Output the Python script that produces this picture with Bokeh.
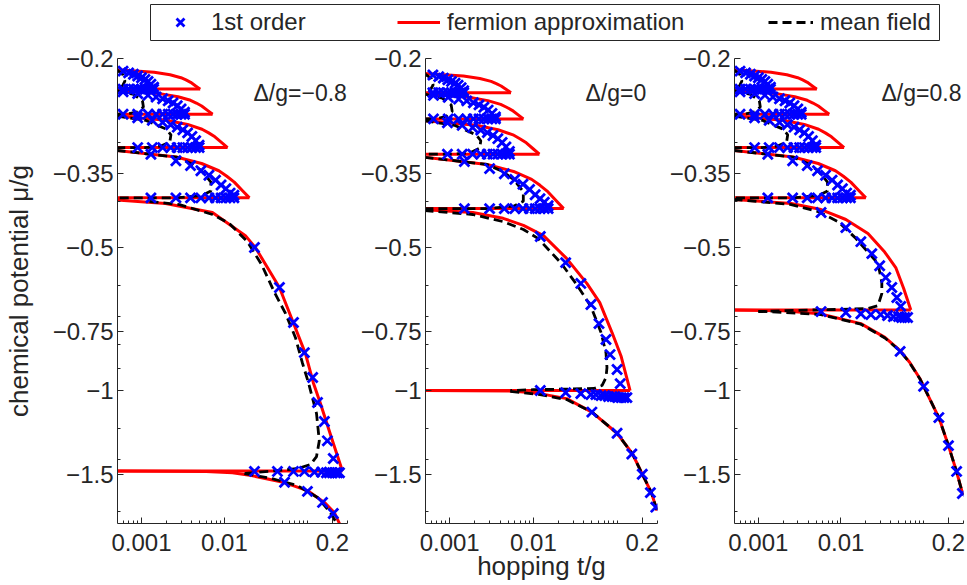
from bokeh.plotting import figure
from bokeh.models import ColumnDataSource, Range1d, FixedTicker, Label, Legend, LegendItem
from bokeh.layouts import column, row
from bokeh.embed import file_html
from bokeh.resources import INLINE

FONT = "Liberation Sans"
TXT = "#262626"
T_LEFT = 0.0005

X_TICKS = [0.001, 0.01, 0.2]
X_TICK_LABELS = ["0.001", "0.01", "0.2"]
X_MINOR = [0.0006, 0.0007, 0.0008, 0.0009, 0.002, 0.003, 0.004, 0.005, 0.006, 0.007, 0.008, 0.009,
           0.02, 0.03, 0.04, 0.05, 0.06, 0.07, 0.08, 0.09, 0.1, 0.3]
Y_TICKS = [-0.2, -0.35, -0.5, -0.75, -1, -1.5]
Y_TICK_LABELS = ["\u22120.2", "\u22120.35", "\u22120.5", "\u22120.75", "\u22121", "\u22121.5"]
Y_MINOR = [-0.3, -0.4, -0.6, -0.7, -0.8, -0.9, -1.2, -1.4, -1.8]

# ---------------- Δ/g = -0.8 ----------------
A_LEVELS = [-1.477, -0.393, -0.308, -0.262, -0.232]
A_TIPS = [0.264, 0.020, 0.0109, 0.0072, 0.0051]
A_RED1_T = [0.0005, 0.00195, 0.00716, 0.0179, 0.0236, 0.046, 0.066, 0.0946, 0.118, 0.1435, 0.1945, 0.264]
A_RED1_MU = [-0.397, -0.404, -0.422, -0.472, -0.500, -0.607, -0.712, -0.836, -0.964, -1.065, -1.256, -1.477]
A_VAC_T = [0.0005, 0.006, 0.0125, 0.0211, 0.0528, 0.1, 0.16, 0.211, 0.245]
A_VAC_MU = [-1.477, -1.48, -1.49, -1.51, -1.562, -1.624, -1.72, -1.807, -1.91]
A_MF1_T = [0.00125, 0.00287, 0.00717, 0.01145, 0.0189, 0.028, 0.040, 0.0546, 0.0716, 0.087, 0.1028,
           0.1287, 0.139, 0.1287, 0.109, 0.0757, 0.0369, 0.0174]
A_MF1_MU = [-0.400, -0.406, -0.426, -0.445, -0.486, -0.543, -0.621, -0.689, -0.773, -0.875, -0.962,
            -1.118, -1.276, -1.377, -1.431, -1.460, -1.478, -1.495]
A_MFVAC_T = [0.0174, 0.0369, 0.0757, 0.1323, 0.1844, 0.2236]
A_MFVAC_MU = [-1.495, -1.532, -1.585, -1.679, -1.797, -1.897]
A_FO1_T = [0.023, 0.046, 0.0679, 0.0919, 0.1156, 0.1323, 0.16, 0.174, 0.205,
           0.023, 0.0435, 0.0679, 0.0919, 0.1215, 0.148, 0.1695, 0.184, 0.2, 0.2175, 0.23, 0.2434,
           0.053, 0.1, 0.152, 0.205]
A_FO1_MU = [-0.500, -0.607, -0.719, -0.832, -0.939, -1.06, -1.162, -1.276, -1.39,
            -1.48, -1.48, -1.48, -1.48, -1.485, -1.485, -1.49, -1.49, -1.49, -1.49, -1.49, -1.49,
            -1.56, -1.63, -1.72, -1.815]

# ---------------- |Δ|/g = 0.8 upper lobes (same in both detuned panels) ----------------
S_RED2_T = [0.0005, 0.00263, 0.0053, 0.00856, 0.01068, 0.01313, 0.01663, 0.020]
S_RED2_MU = [-0.3123, -0.3225, -0.3327, -0.3446, -0.3539, -0.3641, -0.3803, -0.393]
S_RED3_T = [0.0005, 0.002002, 0.003595, 0.005366, 0.006455, 0.00767, 0.009345, 0.0109]
S_RED3_MU = [-0.2643, -0.2698, -0.2753, -0.2818, -0.2868, -0.2924, -0.3011, -0.308]
S_RED4_T = [0.0005, 0.00166, 0.002757, 0.003899, 0.004576, 0.005315, 0.0063, 0.0072]
S_RED4_MU = [-0.2335, -0.2371, -0.2407, -0.2449, -0.2482, -0.2518, -0.2575, -0.262]
S_RED5_T = [0.0005, 0.001422, 0.00221, 0.002989, 0.003436, 0.003914, 0.004541, 0.0051]
S_RED5_MU = [-0.2111, -0.2137, -0.2164, -0.2195, -0.2219, -0.2245, -0.2287, -0.232]
S_MF2_T = [0.0005, 0.00263, 0.003946, 0.0053, 0.00686, 0.00686, 0.0053, 0.00263, 0.0005]
S_MF2_MU = [-0.3123, -0.3225, -0.3327, -0.3446, -0.3641, -0.3803, -0.3888, -0.393, -0.393]
S_MF3_T = [0.0005, 0.001114, 0.002002, 0.002264, 0.002195, 0.001715, 0.001114, 0.0005]
S_MF3_MU = [-0.2643, -0.2698, -0.2818, -0.2896, -0.2997, -0.3057, -0.308, -0.308]
S_MF4_T = [0.0005, 0.000808, 0.001027, 0.001055, 0.000899, 0.000689, 0.0005]
S_MF4_MU = [-0.2335, -0.238, -0.2455, -0.253, -0.259, -0.2617, -0.262]
S_MF5_T = [0.0005, 0.000602, 0.000631, 0.000588, 0.0005]
S_MF5_MU = [-0.2111, -0.2166, -0.2232, -0.2287, -0.2313]
# first-order points of the upper lobes: an upper row and a lower row per lobe
S_FO2_T = [0.0013, 0.0026, 0.0039, 0.0052, 0.0065, 0.0078, 0.0091, 0.0104, 0.0117, 0.013]
S_FO2_UP = [-0.3182, -0.3284, -0.3361, -0.3446, -0.3522, -0.3607, -0.3692, -0.376, -0.384, -0.388]
S_FO2_LO = [-0.393, -0.393, -0.393, -0.393, -0.393, -0.393, -0.393, -0.393, -0.393, -0.393]
S_FO3_T = [0.0009, 0.00135, 0.0018, 0.00225, 0.0027, 0.00315, 0.0036, 0.00405, 0.0045, 0.00495]
S_FO3_UP = [-0.2666, -0.2698, -0.2726, -0.2758, -0.279, -0.2827, -0.2868, -0.2919, -0.2979, -0.3043]
S_FO3_LO = [-0.308, -0.308, -0.308, -0.308, -0.308, -0.308, -0.308, -0.308, -0.308, -0.308]
S_FO4_T = [0.0006, 0.0009, 0.0012, 0.0015, 0.0018, 0.0021, 0.0024, 0.0027, 0.003, 0.0033]
S_FO4_UP = [-0.235, -0.2371, -0.2389, -0.241, -0.2431, -0.2455, -0.2482, -0.2515, -0.2554, -0.2596]
S_FO4_LO = [-0.262, -0.262, -0.262, -0.262, -0.262, -0.262, -0.262, -0.262, -0.262, -0.262]
S_FO5_T = [0.0006, 0.0007, 0.0008, 0.0009, 0.001, 0.0011, 0.0012, 0.0013, 0.0014]
S_FO5_UP = [-0.2126, -0.2144, -0.2159, -0.2177, -0.2195, -0.2214, -0.2236, -0.2265, -0.2298]
S_FO5_LO = [-0.232, -0.232, -0.232, -0.232, -0.232, -0.232, -0.232, -0.232, -0.232]

# ---------------- Δ/g = 0 ----------------
B_LEVELS = [-1.0, -0.414, -0.318, -0.268, -0.236]
B_TIPS = [0.143, 0.023, 0.0118, 0.0076, 0.0054]
B_RED1_T = [0.0005, 0.00189, 0.00435, 0.0076, 0.0132, 0.0249, 0.0435, 0.0621, 0.087, 0.112, 0.143]
B_RED1_MU = [-0.416, -0.422, -0.434, -0.449, -0.472, -0.527, -0.595, -0.653, -0.755, -0.848, -1.0]
B_RED2_T = [0.0005, 0.0028, 0.005797, 0.009534, 0.012, 0.01487, 0.019, 0.023]
B_RED2_MU = [-0.3228, -0.3343, -0.3458, -0.3593, -0.3698, -0.3814, -0.3996, -0.414]
B_RED3_T = [0.0005, 0.002074, 0.00378, 0.005703, 0.006893, 0.008229, 0.01008, 0.0118]
B_RED3_MU = [-0.2705, -0.2765, -0.2825, -0.2895, -0.295, -0.301, -0.3105, -0.318]
B_RED4_T = [0.0005, 0.001701, 0.002853, 0.004064, 0.004785, 0.005574, 0.006634, 0.0076]
B_RED4_MU = [-0.2376, -0.2414, -0.2453, -0.2498, -0.2533, -0.2571, -0.2632, -0.268]
B_RED5_T = [0.0005, 0.001459, 0.002293, 0.003124, 0.003603, 0.004117, 0.004794, 0.0054]
B_RED5_MU = [-0.2151, -0.2177, -0.2204, -0.2235, -0.2259, -0.2285, -0.2327, -0.236]
B_VAC_T = [0.0005, 0.006, 0.012, 0.025, 0.05, 0.1, 0.153, 0.2, 0.257, 0.30]
B_VAC_MU = [-1.0, -1.003, -1.015, -1.04, -1.11, -1.23, -1.36, -1.50, -1.64, -1.79]
B_MF1_T = [0.0005, 0.00189, 0.00435, 0.0076, 0.01145, 0.0212, 0.0322, 0.0487, 0.0643, 0.0737, 0.0757,
           0.0737, 0.066, 0.0528, 0.0249, 0.010, 0.0053]
B_MF1_MU = [-0.418, -0.426, -0.441, -0.458, -0.479, -0.538, -0.595, -0.665, -0.755, -0.833, -0.895,
            -0.939, -0.976, -0.990, -0.993, -0.996, -1.0]
B_MF2_T = [0.0005, 0.0028, 0.004268, 0.005797, 0.00758, 0.00758, 0.005797, 0.0028, 0.0005]
B_MF2_MU = [-0.3228, -0.3343, -0.3458, -0.3593, -0.3814, -0.3996, -0.4092, -0.414, -0.414]
B_MF3_T = [0.0005, 0.001138, 0.002074, 0.002353, 0.00228, 0.001771, 0.001138, 0.0005]
B_MF3_MU = [-0.2705, -0.2765, -0.2895, -0.298, -0.309, -0.3155, -0.318, -0.318]
B_MF4_T = [0.0005, 0.000816, 0.001042, 0.001071, 0.00091, 0.000693, 0.0005]
B_MF4_MU = [-0.2376, -0.2424, -0.2504, -0.2584, -0.2648, -0.2677, -0.268]
B_MF5_T = [0.0005, 0.000605, 0.000634, 0.00059, 0.0005]
B_MF5_MU = [-0.2151, -0.2206, -0.2272, -0.2327, -0.2353]
B_MFVAC_T = [0.0053, 0.012, 0.025, 0.05, 0.1, 0.153, 0.2, 0.257, 0.30]
B_MFVAC_MU = [-1.004, -1.02, -1.045, -1.11, -1.23, -1.36, -1.50, -1.64, -1.79]
B_FO1_T = [0.0121, 0.0243, 0.0369, 0.0487, 0.0608, 0.0737, 0.0824, 0.1, 0.109,
           0.0121, 0.0243, 0.0369, 0.0487, 0.0557, 0.0643, 0.0714, 0.079, 0.087, 0.094, 0.102, 0.112, 0.121, 0.131,
           0.050, 0.1, 0.15, 0.2, 0.25, 0.29]
B_FO1_MU = [-0.474, -0.538, -0.595, -0.659, -0.723, -0.781, -0.840, -0.903, -0.967,
            -1.0, -1.01, -1.015, -1.02, -1.02, -1.025, -1.025, -1.03, -1.03, -1.03, -1.035, -1.035, -1.035, -1.035,
            -1.11, -1.23, -1.36, -1.50, -1.64, -1.76]
B_FO2_T = [0.0015, 0.003, 0.0045, 0.006, 0.0075, 0.009, 0.0105, 0.012, 0.0135, 0.015]
B_FO2_UP = [-0.3295, -0.341, -0.3497, -0.3593, -0.3679, -0.3775, -0.3871, -0.3948, -0.4015, -0.4082]
B_FO2_LO = [-0.414, -0.414, -0.414, -0.414, -0.414, -0.414, -0.414, -0.414, -0.414, -0.414]
B_FO3_T = [0.00094, 0.00141, 0.00188, 0.00235, 0.00282, 0.00329, 0.00376, 0.00423, 0.0047, 0.00517]
B_FO3_UP = [-0.273, -0.2765, -0.2795, -0.283, -0.2865, -0.2905, -0.295, -0.3005, -0.307, -0.314]
B_FO3_LO = [-0.318, -0.318, -0.318, -0.318, -0.318, -0.318, -0.318, -0.318, -0.318, -0.318]
B_FO4_T = [0.00064, 0.00096, 0.00128, 0.0016, 0.00192, 0.00224, 0.00256, 0.00288, 0.0032, 0.00352]
B_FO4_UP = [-0.2392, -0.2414, -0.2434, -0.2456, -0.2478, -0.2504, -0.2533, -0.2568, -0.261, -0.2654]
B_FO4_LO = [-0.268, -0.268, -0.268, -0.268, -0.268, -0.268, -0.268, -0.268, -0.268, -0.268]
B_FO5_T = [0.00063, 0.00074, 0.00084, 0.00095, 0.00105, 0.00116, 0.00126, 0.00137, 0.00147]
B_FO5_UP = [-0.2166, -0.2184, -0.2199, -0.2217, -0.2235, -0.2254, -0.2276, -0.2305, -0.2338]
B_FO5_LO = [-0.236, -0.236, -0.236, -0.236, -0.236, -0.236, -0.236, -0.236, -0.236]

# ---------------- Δ/g = 0.8 ----------------
C_LEVELS = [-0.677, -0.393, -0.308, -0.262, -0.232]
C_TIPS = [0.070, 0.020, 0.0109, 0.0072, 0.0051]
C_RED1_T = [0.0005, 0.0025, 0.00574, 0.01145, 0.0212, 0.0338, 0.046, 0.0574, 0.070]
C_RED1_MU = [-0.396, -0.404, -0.416, -0.4365, -0.467, -0.511, -0.551, -0.610, -0.677]
C_VAC_T = [0.0005, 0.002, 0.0055, 0.0174, 0.034, 0.052, 0.068, 0.09, 0.1, 0.153, 0.2, 0.25, 0.30]
C_VAC_MU = [-0.677, -0.679, -0.689, -0.723, -0.773, -0.824, -0.873, -0.943, -0.98, -1.14, -1.306, -1.48, -1.66]
C_MF1_T = [0.0005, 0.0025, 0.0053, 0.00922, 0.01472, 0.0212, 0.028, 0.0312, 0.0312, 0.028, 0.0212,
           0.00922, 0.00279, 0.001]
C_MF1_MU = [-0.396, -0.406, -0.420, -0.441, -0.476, -0.511, -0.540, -0.592, -0.625, -0.663, -0.672,
            -0.675, -0.678, -0.682]
C_MFVAC_T = [0.001, 0.0055, 0.0174, 0.034, 0.052, 0.068, 0.09, 0.1, 0.153, 0.2, 0.25, 0.30]
C_MFVAC_MU = [-0.681, -0.691, -0.725, -0.775, -0.826, -0.875, -0.944, -0.98, -1.14, -1.306, -1.48, -1.66]
C_FO1_T = [0.00574, 0.01145, 0.0174, 0.0236, 0.0294, 0.0348, 0.0412, 0.0474, 0.0528,
           0.00574, 0.01145, 0.0174, 0.023, 0.0302, 0.0366, 0.0431, 0.0497, 0.0543, 0.059, 0.064,
           0.052, 0.1, 0.153, 0.2, 0.251, 0.295]
C_FO1_MU = [-0.422, -0.454, -0.486, -0.515, -0.546, -0.578, -0.607, -0.637, -0.665,
            -0.682, -0.685, -0.689, -0.692, -0.692, -0.695, -0.699, -0.699, -0.702, -0.702, -0.702,
            -0.827, -0.98, -1.14, -1.306, -1.48, -1.647]

RED = "#FF0000"
BLUE = "#0000FF"
MARK_SIZE = 14
MARK_LW = 2.8


def neg(v):
    return [-x for x in v]


def rows(*pairs):
    """Concatenate (t, mu) series into one table of points."""
    ts, ms = [], []
    for t, m in pairs:
        ts += list(t)
        ms += list(m)
    return ts, ms


def make_panel(curves_red, levels, tips, curves_mf, fo, label, label_x,
               left_border, right_border, fw, ylabel=None, xlabel=None):
    p = figure(x_axis_type="log", y_axis_type="log",
               x_range=Range1d(0.000514, 0.304), y_range=Range1d(1.905, 0.2),
               frame_width=fw, frame_height=465,
               min_border_left=left_border, min_border_right=right_border,
               min_border_top=17, min_border_bottom=62,
               toolbar_location=None, output_backend="svg")
    p.outline_line_color = None
    p.grid.visible = False
    p.background_fill_color = "white"

    red_src = ColumnDataSource(dict(xs=[c[0] for c in curves_red], ys=[neg(c[1]) for c in curves_red]))
    p.multi_line("xs", "ys", source=red_src, line_color=RED, line_width=3, line_join="round")
    flat_src = ColumnDataSource(dict(x0=[T_LEFT] * len(levels), x1=tips, y=neg(levels)))
    p.segment(x0="x0", y0="y", x1="x1", y1="y", source=flat_src, line_color=RED, line_width=3)

    mf_src = ColumnDataSource(dict(xs=[c[0] for c in curves_mf], ys=[neg(c[1]) for c in curves_mf]))
    p.multi_line("xs", "ys", source=mf_src, line_color="black", line_width=2.8, line_dash="9 5")

    fo_src = ColumnDataSource(dict(x=fo[0], y=neg(fo[1])))
    p.scatter("x", "y", source=fo_src, marker="x", size=MARK_SIZE, line_width=MARK_LW, line_color=BLUE)

    p.xaxis.ticker = FixedTicker(ticks=X_TICKS, minor_ticks=X_MINOR)
    p.xaxis.major_label_overrides = {t: s for t, s in zip(X_TICKS, X_TICK_LABELS)}
    yt = neg(Y_TICKS)
    p.yaxis.ticker = FixedTicker(ticks=yt, minor_ticks=neg(Y_MINOR))
    p.yaxis.major_label_overrides = {t: s for t, s in zip(yt, Y_TICK_LABELS)}
    for ax in (p.xaxis[0], p.yaxis[0]):
        ax.axis_line_color = TXT
        ax.axis_line_width = 1
        ax.major_tick_line_color = TXT
        ax.minor_tick_line_color = TXT
        ax.major_tick_in = 6
        ax.major_tick_out = 0
        ax.minor_tick_in = 3
        ax.minor_tick_out = 0
        ax.major_label_text_font = FONT
        ax.major_label_text_font_size = "24px"
        ax.major_label_text_color = TXT
        ax.axis_label_text_font = FONT
        ax.axis_label_text_font_size = "26px"
        ax.axis_label_text_font_style = "normal"
        ax.axis_label_text_color = TXT
    p.xaxis.major_label_standoff = 10
    p.yaxis.major_label_standoff = 4
    if ylabel:
        p.yaxis.axis_label = ylabel
        p.yaxis.axis_label_standoff = 16
    if xlabel:
        p.xaxis.axis_label = xlabel
        p.xaxis.axis_label_standoff = -3

    p.add_layout(Label(x=label_x, y=431, x_units="screen", y_units="screen", text=label,
                       text_font=FONT, text_font_size="23px", text_color=TXT,
                       text_baseline="middle"))
    return p


S_FO = rows((S_FO2_T, S_FO2_UP), (S_FO2_T, S_FO2_LO), (S_FO3_T, S_FO3_UP), (S_FO3_T, S_FO3_LO),
            (S_FO4_T, S_FO4_UP), (S_FO4_T, S_FO4_LO), (S_FO5_T, S_FO5_UP), (S_FO5_T, S_FO5_LO))

pA = make_panel(
    [(A_RED1_T, A_RED1_MU), (S_RED2_T, S_RED2_MU), (S_RED3_T, S_RED3_MU), (S_RED4_T, S_RED4_MU),
     (S_RED5_T, S_RED5_MU), (A_VAC_T, A_VAC_MU)],
    A_LEVELS, A_TIPS,
    [(A_MF1_T, A_MF1_MU), (S_MF2_T, S_MF2_MU), (S_MF3_T, S_MF3_MU), (S_MF4_T, S_MF4_MU),
     (S_MF5_T, S_MF5_MU), (A_MFVAC_T, A_MFVAC_MU)],
    rows((A_FO1_T, A_FO1_MU), S_FO),
    "\u0394/g=\u22120.8", 136, 112, 10, 230, ylabel="chemical potential \u03bc/g")

pB = make_panel(
    [(B_RED1_T, B_RED1_MU), (B_RED2_T, B_RED2_MU), (B_RED3_T, B_RED3_MU), (B_RED4_T, B_RED4_MU),
     (B_RED5_T, B_RED5_MU), (B_VAC_T, B_VAC_MU)],
    B_LEVELS, B_TIPS,
    [(B_MF1_T, B_MF1_MU), (B_MF2_T, B_MF2_MU), (B_MF3_T, B_MF3_MU), (B_MF4_T, B_MF4_MU),
     (B_MF5_T, B_MF5_MU), (B_MFVAC_T, B_MFVAC_MU)],
    rows((B_FO1_T, B_FO1_MU), (B_FO2_T, B_FO2_UP), (B_FO2_T, B_FO2_LO), (B_FO3_T, B_FO3_UP),
         (B_FO3_T, B_FO3_LO), (B_FO4_T, B_FO4_UP), (B_FO4_T, B_FO4_LO), (B_FO5_T, B_FO5_UP),
         (B_FO5_T, B_FO5_LO)),
    "\u0394/g=0", 160, 68, 8, 232, xlabel="hopping t/g")

pC = make_panel(
    [(C_RED1_T, C_RED1_MU), (S_RED2_T, S_RED2_MU), (S_RED3_T, S_RED3_MU), (S_RED4_T, S_RED4_MU),
     (S_RED5_T, S_RED5_MU), (C_VAC_T, C_VAC_MU)],
    C_LEVELS, C_TIPS,
    [(C_MF1_T, C_MF1_MU), (S_MF2_T, S_MF2_MU), (S_MF3_T, S_MF3_MU), (S_MF4_T, S_MF4_MU),
     (S_MF5_T, S_MF5_MU), (C_MFVAC_T, C_MFVAC_MU)],
    rows((C_FO1_T, C_FO1_MU), S_FO),
    "\u0394/g=0.8", 147, 69, 9, 229)

# ---------------- legend strip ----------------
# The legend renderers reuse panel-A series; this strip's ranges keep them out of view,
# so only the legend samples are visible.
lf = figure(frame_width=790, frame_height=37, min_border_left=150, min_border_right=0,
            min_border_top=4, min_border_bottom=0, x_range=Range1d(10, 20), y_range=Range1d(10, 20),
            toolbar_location=None, output_backend="svg")
lf.axis.visible = False
lf.grid.visible = False
lf.outline_line_color = TXT
lf.outline_line_width = 1
r_fo = lf.scatter(A_FO1_T, neg(A_FO1_MU), marker="x", size=MARK_SIZE, line_width=MARK_LW, line_color=BLUE)
r_red = lf.line(A_RED1_T, neg(A_RED1_MU), line_color=RED, line_width=3)
r_mf = lf.line(A_MF1_T, neg(A_MF1_MU), line_color="black", line_width=2.8, line_dash="9 5")

for rend, text, lx, gw, stand in [(r_fo, "1st order", 15, 30, 16),
                                  (r_red, "fermion approximation", 247, 43, 7),
                                  (r_mf, "mean field", 618, 45, 7)]:
    lg = Legend(items=[LegendItem(label=text, renderers=[rend])], location=(lx, 5),
                orientation="horizontal", glyph_width=gw, glyph_height=28, label_height=28,
                label_standoff=stand, padding=0, margin=0, spacing=0,
                border_line_alpha=0, background_fill_alpha=0,
                label_text_font=FONT, label_text_font_size="24px", label_text_color=TXT)
    lf.add_layout(lg)

layout = column(lf, row(pA, pB, pC))
open("out.html", "w").write(file_html(layout, INLINE))
